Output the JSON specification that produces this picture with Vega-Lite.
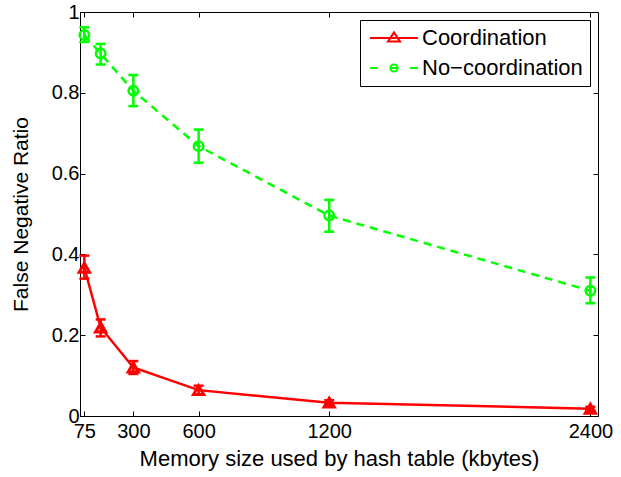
{
  "$schema": "https://vega.github.io/schema/vega-lite/v6.json",
  "width": 518,
  "height": 404,
  "autosize": "none",
  "padding": {"left": 80, "top": 12, "right": 23, "bottom": 61},
  "background": "white",
  "config": {
    "font": "Liberation Sans",
    "view": {"stroke": "black", "strokeWidth": 1},
    "axis": {
      "grid": false,
      "domainColor": "black",
      "tickColor": "black",
      "labelColor": "black",
      "titleColor": "black",
      "labelFont": "Liberation Sans",
      "titleFont": "Liberation Sans",
      "labelFontSize": 20,
      "titleFontSize": 21,
      "titleFontWeight": "normal",
      "tickSize": -5,
      "domainWidth": 1,
      "tickWidth": 1
    }
  },
  "data": {
    "values": [
      {"mem": 75, "s": "Coordination", "v": 0.367, "lo": 0.340, "hi": 0.397},
      {"mem": 150, "s": "Coordination", "v": 0.219, "lo": 0.197, "hi": 0.239},
      {"mem": 300, "s": "Coordination", "v": 0.120, "lo": 0.104, "hi": 0.136},
      {"mem": 600, "s": "Coordination", "v": 0.064, "lo": 0.053, "hi": 0.075},
      {"mem": 1200, "s": "Coordination", "v": 0.033, "lo": 0.027, "hi": 0.039},
      {"mem": 2400, "s": "Coordination", "v": 0.018, "lo": 0.013, "hi": 0.023},
      {"mem": 75, "s": "No−coordination", "v": 0.943, "lo": 0.926, "hi": 0.962},
      {"mem": 150, "s": "No−coordination", "v": 0.897, "lo": 0.870, "hi": 0.921},
      {"mem": 300, "s": "No−coordination", "v": 0.805, "lo": 0.767, "hi": 0.844},
      {"mem": 600, "s": "No−coordination", "v": 0.668, "lo": 0.627, "hi": 0.709},
      {"mem": 1200, "s": "No−coordination", "v": 0.496, "lo": 0.456, "hi": 0.535},
      {"mem": 2400, "s": "No−coordination", "v": 0.310, "lo": 0.279, "hi": 0.343}
    ]
  },
  "resolve": {"axis": {"x": "independent", "y": "independent"}},
  "layer": [
    {
      "transform": [{"filter": "datum.s === 'Coordination'"}],
      "mark": {"type": "line", "color": "#ff0000", "strokeWidth": 2.5},
      "encoding": {
        "x": {"field": "mem", "type": "quantitative",
              "scale": {"domain": [55, 2435], "nice": false, "zero": false},
              "axis": {"values": [75, 300, 600, 1200, 2400], "format": "d", "title": "Memory size used by hash table (kbytes)", "titleFontSize": 22, "labelPadding": 10, "titlePadding": 7, "labelFlush": false}},
        "y": {"field": "v", "type": "quantitative",
              "scale": {"domain": [0, 1], "nice": false, "zero": false},
              "axis": {"values": [0, 0.2, 0.4, 0.6, 0.8, 1], "format": "~g", "title": "False Negative Ratio", "labelPadding": 6, "titlePadding": 20}}
      }
    },
    {
      "transform": [{"filter": "datum.s !== 'Coordination'"}],
      "mark": {"type": "line", "color": "#00ff00", "strokeWidth": 2.5, "strokeDash": [8, 6]},
      "encoding": {
        "x": {"field": "mem", "type": "quantitative", "axis": {"orient": "top", "values": [75, 300, 600, 1200, 2400], "labels": false, "title": null, "domain": false}},
        "y": {"field": "v", "type": "quantitative", "axis": {"orient": "right", "values": [0, 0.2, 0.4, 0.6, 0.8, 1], "labels": false, "title": null, "domain": false}}
      }
    },
    {
      "mark": {"type": "rule", "strokeWidth": 2.5},
      "encoding": {
        "x": {"field": "mem", "type": "quantitative", "axis": null},
        "y": {"field": "lo", "type": "quantitative", "axis": null},
        "y2": {"field": "hi"},
        "color": {"condition": {"test": "datum.s === 'Coordination'", "value": "#ff0000"}, "value": "#00ff00"}
      }
    },
    {
      "mark": {"type": "tick", "orient": "horizontal", "size": 10, "thickness": 2.5, "opacity": 1},
      "encoding": {
        "x": {"field": "mem", "type": "quantitative", "axis": null},
        "y": {"field": "lo", "type": "quantitative", "axis": null},
        "color": {"condition": {"test": "datum.s === 'Coordination'", "value": "#ff0000"}, "value": "#00ff00"}
      }
    },
    {
      "mark": {"type": "tick", "orient": "horizontal", "size": 10, "thickness": 2.5, "opacity": 1},
      "encoding": {
        "x": {"field": "mem", "type": "quantitative", "axis": null},
        "y": {"field": "hi", "type": "quantitative", "axis": null},
        "color": {"condition": {"test": "datum.s === 'Coordination'", "value": "#ff0000"}, "value": "#00ff00"}
      }
    },
    {
      "transform": [{"filter": "datum.s === 'Coordination'"}],
      "mark": {"type": "point", "shape": "triangle-up", "size": 105, "filled": false, "color": "#ff0000", "strokeWidth": 3, "opacity": 1},
      "encoding": {
        "x": {"field": "mem", "type": "quantitative", "axis": null},
        "y": {"field": "v", "type": "quantitative", "axis": null}
      }
    },
    {
      "transform": [{"filter": "datum.s !== 'Coordination'"}],
      "mark": {"type": "point", "shape": "circle", "size": 90, "filled": false, "color": "#00ff00", "strokeWidth": 2.5, "opacity": 1},
      "encoding": {
        "x": {"field": "mem", "type": "quantitative", "axis": null},
        "y": {"field": "v", "type": "quantitative", "axis": null}
      }
    },
    {
      "mark": {"type": "point", "filled": false, "opacity": 0},
      "encoding": {
        "x": {"field": "mem", "type": "quantitative", "axis": null},
        "y": {"field": "v", "type": "quantitative", "axis": null},
        "color": {"field": "s", "type": "nominal",
                  "scale": {"domain": ["Coordination", "No−coordination"], "range": ["#ff0000", "#00ff00"]},
                  "legend": {"title": null, "orient": "top-right", "offset": 8, "strokeColor": "black", "fillColor": "white", "padding": 7, "rowPadding": 8, "labelFontSize": 22, "labelLimit": 300, "labelFont": "Liberation Sans", "labelColor": "black", "symbolSize": 256, "symbolStrokeWidth": 2, "symbolOpacity": 1, "symbolFillColor": "transparent", "labelOffset": 33, "cornerRadius": 0,
                             "encode": {"symbols": {"update": {"fill": {"value": "transparent"}, "opacity": {"value": 1}, "strokeOpacity": {"value": 1}}}}}},
        "shape": {"field": "s", "type": "nominal",
                  "scale": {"domain": ["Coordination", "No−coordination"], "range": ["M-1,0H5M2,-0.7L2.75,0.45L1.25,0.45Z", "M-1,0H0M1.55,0H2.45M4,0H5M2.45,0A0.45,0.45,0,1,1,1.55,0A0.45,0.45,0,1,1,2.45,0"]},
                  "legend": {"title": null, "orient": "top-right", "offset": 8, "strokeColor": "black", "fillColor": "white", "padding": 7, "rowPadding": 8, "labelFontSize": 22, "labelLimit": 300, "labelFont": "Liberation Sans", "labelColor": "black", "symbolSize": 256, "symbolStrokeWidth": 2, "symbolOpacity": 1, "symbolFillColor": "transparent", "labelOffset": 33, "cornerRadius": 0,
                             "encode": {"symbols": {"update": {"fill": {"value": "transparent"}, "opacity": {"value": 1}, "strokeOpacity": {"value": 1}}}}}}
      }
    }
  ]
}
